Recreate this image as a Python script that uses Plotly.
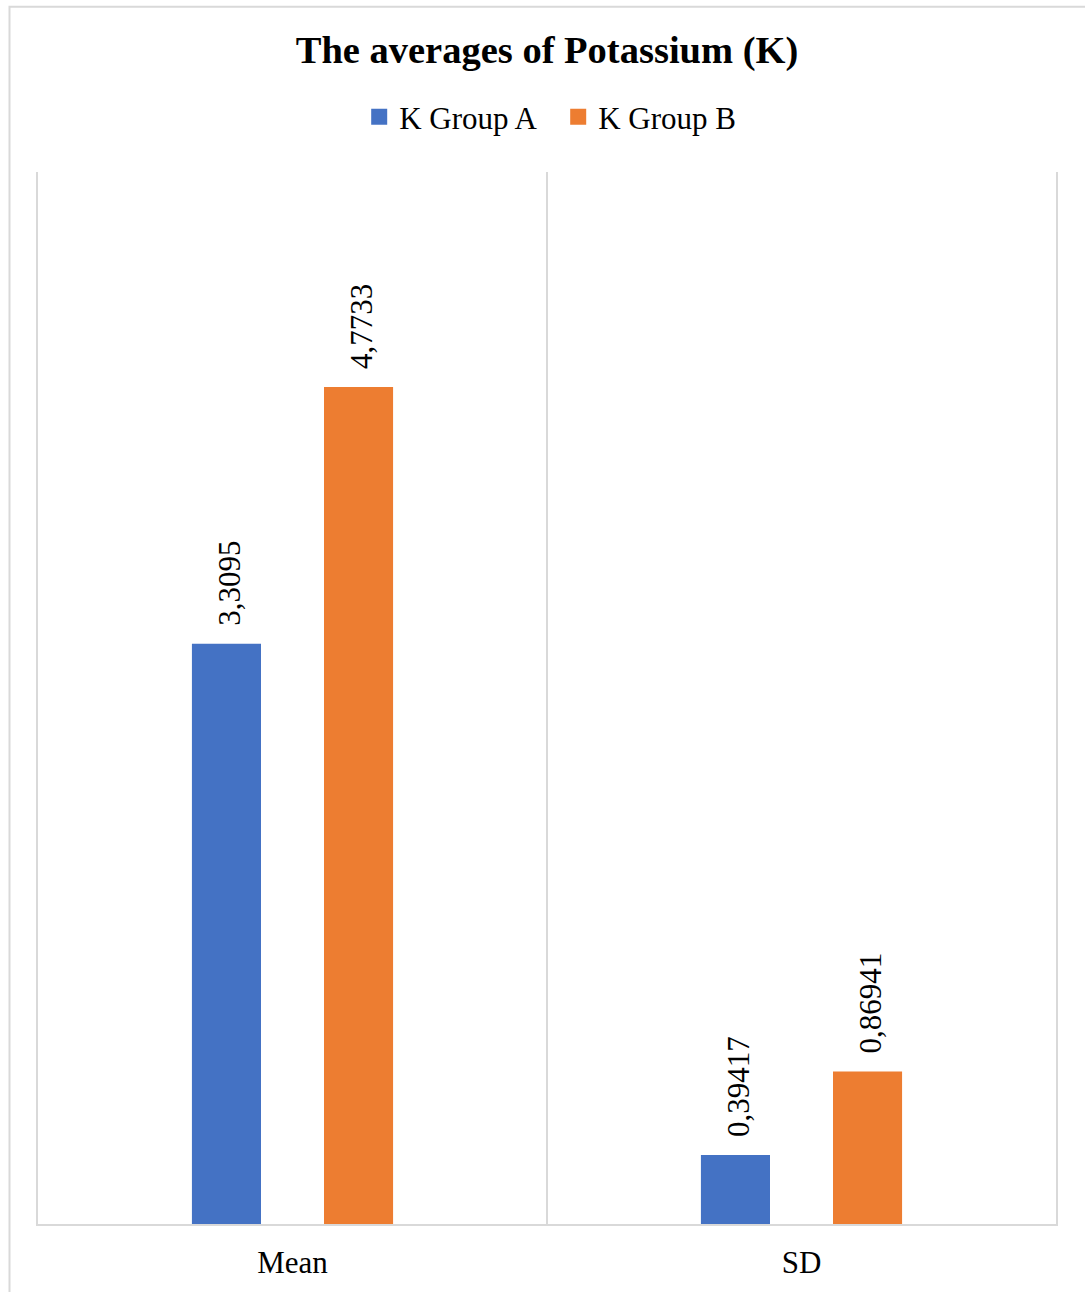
import plotly.graph_objects as go

# Potassium statistics per group
categories = ["Mean", "SD"]
group_a = [3.3095, 0.39417]
group_b = [4.7733, 0.86941]
series_names = ["K Group A", "K Group B"]
colors = ["#4472C4", "#ED7D31"]

W, H = 1085, 1292
FONT = "Liberation Serif, Times New Roman, serif"


def fmt(v):
    return str(v).replace(".", ",")


fig = go.Figure()
for name, vals, col in zip(series_names, [group_a, group_b], colors):
    fig.add_trace(go.Bar(
        x=categories, y=vals, name=name,
        marker=dict(color=col, line=dict(width=0)),
        hoverinfo="x+y", showlegend=False,
    ))
    # legend entry with a larger square key
    fig.add_trace(go.Scatter(
        x=[None], y=[None], mode="markers", name=name,
        marker=dict(symbol="square", size=16, color=col),
        hoverinfo="skip",
    ))

# rotated value labels above each bar
shifts = [-66, 66]
for vals, dx in zip([group_a, group_b], shifts):
    for c, v in zip(categories, vals):
        fig.add_annotation(
            x=c, y=v, xref="x", yref="y",
            text=fmt(v), showarrow=False, textangle=-90,
            xanchor="center", yanchor="bottom",
            xshift=dx + 3, yshift=16,
            font=dict(family=FONT, size=31, color="#000000"),
        )

# outer chart frame
fig.add_shape(type="rect", xref="paper", yref="paper",
              x0=-0.028, x1=1.2, y0=-0.2, y1=1.157,
              line=dict(color="#d9d9d9", width=2), layer="below")

fig.update_layout(
    width=W, height=H,
    margin=dict(l=38, r=29, t=172, b=64),
    paper_bgcolor="white", plot_bgcolor="white",
    barmode="group", bargap=0.481, bargroupgap=0.477,
    font=dict(family=FONT, color="#000000"),
    title=dict(
        text="<b>The averages of Potassium (K)</b>",
        font=dict(family=FONT, size=38.5, color="#000000"),
        x=0.5, xref="paper", xanchor="center",
        y=1 - 50 / H, yref="container", yanchor="middle",
    ),
    legend=dict(
        orientation="h", x=0.511, xanchor="center", xref="paper",
        y=1 - 117 / H, yref="container", yanchor="middle",
        font=dict(family=FONT, size=31, color="#000000"),
        itemwidth=30, tracegroupgap=0, entrywidth=154,
    ),
    xaxis=dict(
        type="category", range=[-0.5, 1.5], tickson="boundaries",
        showgrid=True, gridcolor="#d9d9d9", gridwidth=1.5,
        showline=True, linecolor="#d9d9d9", linewidth=2,
        ticks="", ticklabelstandoff=10,
        tickfont=dict(family=FONT, size=31, color="#000000"),
        fixedrange=True,
    ),
    yaxis=dict(
        range=[0, 6], showgrid=False, showticklabels=False,
        zeroline=False, showline=True, mirror=True,
        linecolor="#d9d9d9", linewidth=1.5,
        ticks="", fixedrange=True,
    ),
)

fig.write_html("out.html")
